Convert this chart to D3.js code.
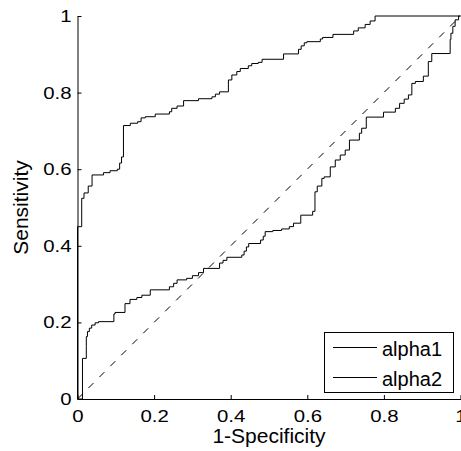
<!DOCTYPE html>
<html>
<head>
<meta charset="utf-8">
<script src="https://cdn.jsdelivr.net/npm/d3@7"></script>
<style>
    body { margin: 0; background: #fff; }
    svg text { font-family: Arial, "Liberation Sans", sans-serif; }
</style>
</head>
<body>
<div id="chart"></div>
<script>
// ROC curves, each point is [1-specificity, sensitivity] where the curve rises
const alpha1 = [
    [0, 0], [0, 0.45], [0.011, 0.524], [0.017, 0.538], [0.028, 0.556], [0.038, 0.585],
    [0.068, 0.591], [0.085, 0.596], [0.104, 0.600], [0.110, 0.616], [0.115, 0.632],
    [0.120, 0.714], [0.138, 0.720], [0.157, 0.724], [0.166, 0.734], [0.177, 0.737],
    [0.203, 0.744], [0.240, 0.750], [0.246, 0.759], [0.260, 0.765], [0.277, 0.779],
    [0.316, 0.784], [0.351, 0.789], [0.360, 0.796], [0.371, 0.802], [0.394, 0.833],
    [0.403, 0.846], [0.416, 0.855], [0.425, 0.863], [0.446, 0.870], [0.455, 0.876],
    [0.472, 0.879], [0.482, 0.887], [0.538, 0.901], [0.577, 0.913], [0.584, 0.922],
    [0.592, 0.930], [0.599, 0.933], [0.634, 0.940], [0.640, 0.944], [0.667, 0.952],
    [0.721, 0.961], [0.733, 0.969], [0.751, 0.978], [0.764, 0.987], [0.777, 1.0],
    [1, 1]
];
const alpha2 = [
    [0, 0], [0.013, 0.106], [0.023, 0.137], [0.023, 0.163], [0.026, 0.176], [0.031, 0.185],
    [0.037, 0.193], [0.046, 0.199], [0.055, 0.202], [0.095, 0.222], [0.098, 0.226],
    [0.124, 0.249], [0.137, 0.260], [0.155, 0.265], [0.168, 0.271], [0.190, 0.285],
    [0.240, 0.293], [0.251, 0.302], [0.260, 0.311], [0.285, 0.315], [0.300, 0.322],
    [0.316, 0.330], [0.329, 0.341], [0.371, 0.355], [0.380, 0.362], [0.390, 0.370],
    [0.429, 0.376], [0.435, 0.386], [0.441, 0.397], [0.447, 0.406], [0.478, 0.415],
    [0.485, 0.425], [0.490, 0.437], [0.510, 0.440], [0.533, 0.444], [0.553, 0.450],
    [0.564, 0.459], [0.583, 0.480], [0.614, 0.490], [0.620, 0.541], [0.626, 0.556],
    [0.638, 0.576], [0.644, 0.580], [0.660, 0.606], [0.673, 0.624], [0.686, 0.637],
    [0.699, 0.650], [0.710, 0.676], [0.736, 0.694], [0.742, 0.707], [0.754, 0.736],
    [0.799, 0.749], [0.830, 0.759], [0.841, 0.772], [0.853, 0.783], [0.864, 0.794],
    [0.873, 0.824], [0.882, 0.829], [0.903, 0.843], [0.916, 0.881], [0.925, 0.902],
    [0.973, 0.939], [0.975, 0.955], [0.980, 0.973], [0.986, 0.990], [0.995, 1.0],
    [1, 1]
];
const seriesNames = ["alpha1", "alpha2"];
const xTicks = [0, 0.2, 0.4, 0.6, 0.8, 1];
const yTicks = [0, 0.2, 0.4, 0.6, 0.8, 1];
const xLabel = "1-Specificity";
const yLabel = "Sensitivity";

const width = 461;
const height = 451;
const margin = { left: 77.5, top: 16, size: 383 };

const svg = d3.select("#chart").append("svg")
    .attr("width", width)
    .attr("height", height);

const x = d3.scaleLinear().domain([0, 1]).range([margin.left, margin.left + margin.size]);
const y = d3.scaleLinear().domain([0, 1]).range([margin.top + margin.size, margin.top]);

// diagonal reference
svg.append("line")
    .attr("x1", x(0)).attr("y1", y(0))
    .attr("x2", x(1)).attr("y2", y(1))
    .attr("stroke", "#000")
    .attr("stroke-width", 1)
    .attr("stroke-dasharray", "7,8.5");

const line = d3.line()
    .x(d => x(d[0]))
    .y(d => y(d[1]))
    .curve(d3.curveStepAfter);

[alpha1, alpha2].forEach(data => {
    svg.append("path")
        .datum(data)
        .attr("d", line)
        .attr("fill", "none")
        .attr("stroke", "#000")
        .attr("stroke-width", 1);
});

// axes, ticks pointing inward like matlab
const xAxis = svg.append("g")
    .attr("transform", `translate(0,${y(0)})`)
    .call(d3.axisBottom(x).tickValues(xTicks).tickFormat(d3.format("")).tickSizeInner(-4).tickSizeOuter(0).tickPadding(11));
const yAxis = svg.append("g")
    .attr("transform", `translate(${x(0)},0)`)
    .call(d3.axisLeft(y).tickValues(yTicks).tickFormat(d3.format("")).tickSizeInner(-4).tickSizeOuter(0).tickPadding(5));

[xAxis, yAxis].forEach(g => {
    g.select(".domain").attr("stroke", "#000");
    g.selectAll(".tick line").attr("stroke", "#000");
    g.selectAll(".tick text")
        .attr("fill", "#000")
        .attr("transform", "scale(1.2,1)")
        .style("font-size", "17px")
        .style("font-family", "Arial, 'Liberation Sans', sans-serif");
});

svg.append("text")
    .attr("x", x(0.5))
    .attr("y", 443)
    .attr("text-anchor", "middle")
    .style("font-size", "21px")
    .text(xLabel);

svg.append("text")
    .attr("transform", `translate(28,${y(0.5)}) rotate(-90)`)
    .attr("text-anchor", "middle")
    .style("font-size", "21px")
    .text(yLabel);

// legend
const legend = svg.append("g");
legend.append("rect")
    .attr("x", 324.5).attr("y", 332.5)
    .attr("width", 129).attr("height", 60)
    .attr("fill", "#fff")
    .attr("stroke", "#000");

seriesNames.forEach((name, i) => {
    const ly = 347.5 + i * 30;
    legend.append("line")
        .attr("x1", 333).attr("x2", 377)
        .attr("y1", ly).attr("y2", ly)
        .attr("stroke", "#000");
    legend.append("text")
        .attr("x", 382)
        .attr("y", ly + 8)
        .style("font-size", "20px")
        .text(name);
});
</script>
</body>
</html>
